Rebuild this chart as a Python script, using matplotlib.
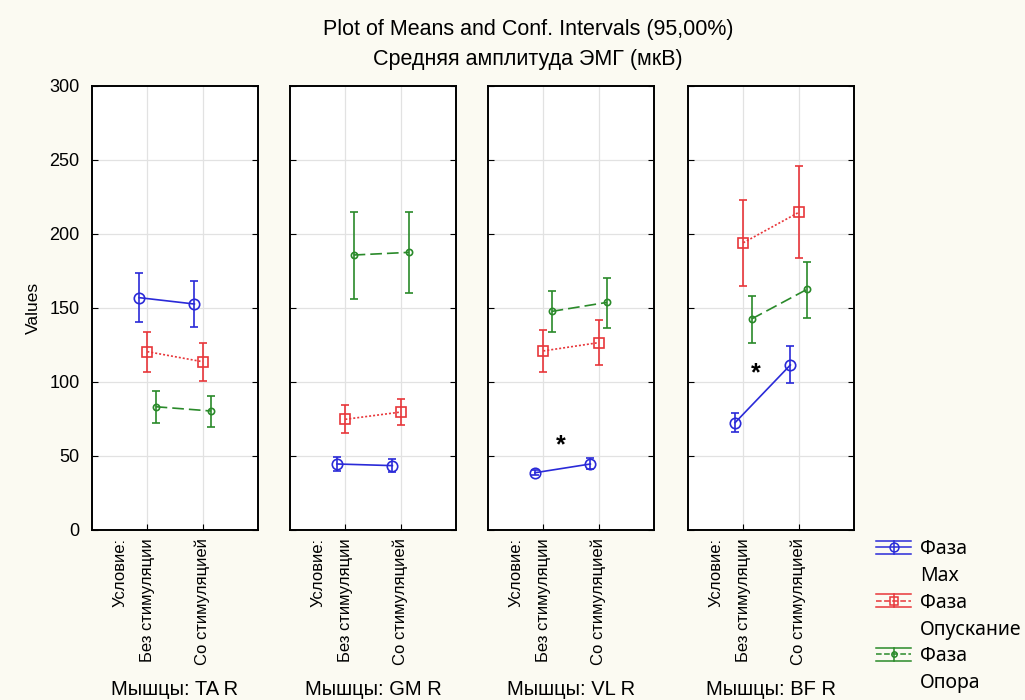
import numpy as np
import matplotlib
matplotlib.use("Agg")
import matplotlib.pyplot as plt
from matplotlib.lines import Line2D
from matplotlib.legend_handler import HandlerBase

# данные
muscles = ['Мышцы: TA R', 'Мышцы: GM R', 'Мышцы: VL R', 'Мышцы: BF R']
conditions = ['Условие:', 'Без стимуляции', 'Со стимуляцией']
phase_word = 'Фаза'
phase_names = ['Max', 'Опускание', 'Опора']

# средние по панелям: [без стимуляции, со стимуляцией]
mean_max = [[157.0, 152.7], [44.6, 43.5], [38.7, 44.6], [72.5, 111.5]]
low_max = [[140.8, 137.2], [39.9, 39.4], [37.0, 41.0], [66.2, 99.1]]
high_max = [[173.4, 168.5], [49.0, 47.7], [40.5, 48.9], [78.8, 124.5]]

mean_down = [[120.5, 113.7], [74.8, 79.7], [121.0, 126.6], [194.1, 214.6]]
low_down = [[107.0, 100.7], [65.8, 71.0], [106.5, 111.5], [164.9, 183.6]]
high_down = [[134.0, 126.4], [84.5, 88.5], [135.4, 142.0], [223.0, 246.0]]

mean_sup = [[83.3, 80.4], [185.8, 187.6], [147.7, 153.8], [142.6, 162.6]]
low_sup = [[72.5, 69.8], [156.0, 160.4], [133.8, 136.7], [126.4, 143.5]]
high_sup = [[94.0, 90.8], [214.6, 215.0], [161.2, 170.0], [157.9, 181.3]]

# звёздочки значимости: (панель, x, y)
stars = [(2, 1.31, 57), (3, 1.22, 106)]

series = [
    (mean_max, low_max, high_max, '#2a2ad8', '-', 'o', 7.5, -0.15),
    (mean_down, low_down, high_down, '#e8363a', (0, (1.2, 1.2)), 's', 7, 0.0),
    (mean_sup, low_sup, high_sup, '#2a8a2a', (0, (7, 3)), 'o', 4.5, 0.15),
]


class HandlerCI(HandlerBase):
    """значок легенды как в Statistica: линия с маркером и две полки сверху/снизу"""

    def create_artists(self, legend, orig, xdescent, ydescent, width, height, fontsize, trans):
        col = orig.get_color()
        y = height / 2 - ydescent
        d = 4.6
        mid = Line2D([-xdescent, width - xdescent], [y, y], color=col, lw=1.1,
                     ls=orig.get_linestyle(), transform=trans)
        top = Line2D([-xdescent, width - xdescent], [y + d, y + d], color=col, lw=1.1, transform=trans)
        bot = Line2D([-xdescent, width - xdescent], [y - d, y - d], color=col, lw=1.1, transform=trans)
        cx = width / 2 - xdescent
        vert = Line2D([cx, cx], [y - d, y + d], color=col, lw=1.1, transform=trans)
        mk = Line2D([cx], [y], color=col, marker=orig.get_marker(), ms=orig.get_markersize(),
                    mfc='none', mec=col, mew=1.1, ls='none', transform=trans)
        return [mid, top, bot, vert, mk]


bg = '#fbfaf2'
fig = plt.figure(figsize=(10.25, 7), dpi=100, facecolor=bg)

fig.text(0.515, 0.958, 'Plot of Means and Conf. Intervals (95,00%)', ha='center', va='center',
         fontsize=15.5, family='Liberation Sans')
fig.text(0.515, 0.915, 'Средняя амплитуда ЭМГ (мкВ)', ha='center', va='center',
         fontsize=15.5, family='Liberation Sans')

lefts = [92, 290, 488, 688]
proxies = []
for p, left in enumerate(lefts):
    ax = fig.add_axes([left / 1025, 170 / 700, 166 / 1025, 444 / 700])
    ax.set_facecolor('white')
    ax.set_xlim(0, 3)
    ax.set_ylim(0, 300)
    ax.set_yticks(np.arange(0, 301, 50))
    ax.set_xticks([0.5, 1, 2])
    ax.set_xticklabels(conditions, rotation=90, va='top', ha='center',
                       fontsize=12, family='Liberation Sans')
    ax.get_xticklines()[0].set_visible(False)
    ax.get_xticklines()[1].set_visible(False)
    ax.tick_params(axis='y', direction='in', left=True, right=True, length=4,
                   labelsize=13, pad=9)
    ax.tick_params(axis='x', direction='in', length=4, pad=6)
    for lab in ax.get_yticklabels():
        lab.set_family('Liberation Sans')
    if p > 0:
        ax.set_yticklabels([])
    for x in [1, 2]:
        ax.axvline(x, color='#e2e2e2', lw=0.9, zorder=0)
    for y in range(50, 300, 50):
        ax.axhline(y, color='#e2e2e2', lw=0.9, zorder=0)
    for s in ax.spines.values():
        s.set_linewidth(1.4)

    for m, lo, hi, col, ls, mk, ms, off in series:
        xs = np.array([1, 2]) + off
        ys = np.array(m[p])
        err = [ys - np.array(lo[p]), np.array(hi[p]) - ys]
        ax.errorbar(xs, ys, yerr=err, color=col, ls=ls, lw=1.2, marker=mk, ms=ms,
                    mfc='none', mec=col, mew=1.2, capsize=3, elinewidth=1.2,
                    capthick=1.2, zorder=3)
        if p == 0:
            proxies.append(Line2D([], [], color=col, ls=ls, marker=mk, ms=ms * 0.85))

    for sp, sx, sy in stars:
        if sp == p:
            ax.text(sx, sy, '*', ha='center', va='center', fontsize=18, fontweight='bold',
                    family='Liberation Sans')

    ax.text(0.5, -0.36, muscles[p], transform=ax.transAxes, ha='center', va='center',
            fontsize=14.5, family='Liberation Sans')

    if p == 0:
        ax.set_ylabel('Values', fontsize=12.5, family='Liberation Sans', labelpad=6)

leg = fig.legend(proxies, [phase_word] * 3, loc='upper left',
                 bbox_to_anchor=(876 / 1025, 1 - 539 / 700), frameon=False,
                 prop={'family': 'Noto Sans', 'size': 14},
                 handler_map={Line2D: HandlerCI()},
                 handlelength=1.8, handletextpad=0.45, labelspacing=1.73,
                 borderaxespad=0, borderpad=0)

# вторая строка подписи каждой фазы, на 27 px ниже слова «Фаза»
fig.canvas.draw()
for t, name in zip(leg.get_texts(), phase_names):
    bb = t.get_window_extent()
    fig.text(bb.x0 / 1025, (bb.y0 + bb.y1) / 2 / 700 - 27 / 700, name, ha='left', va='center',
             fontsize=14, family='Noto Sans')

fig.savefig('out.png', dpi=100, facecolor=bg)
